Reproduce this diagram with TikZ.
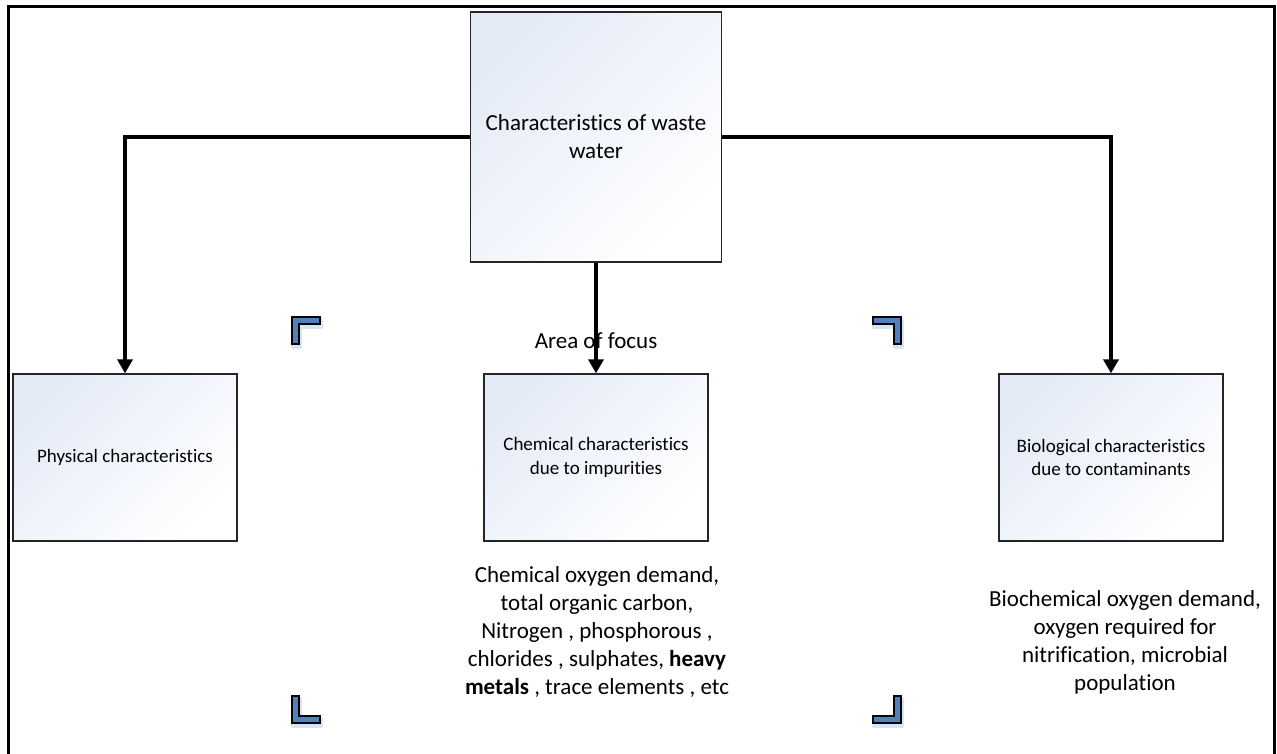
\documentclass[tikz,border=0pt]{standalone}
\usepackage{fontspec}
\setmainfont{Carlito}[Ligatures=NoCommon]
\usetikzlibrary{arrows.meta}
\definecolor{boxtop}{RGB}{228,235,247}
\definecolor{brk}{RGB}{79,129,189}
\definecolor{glow}{RGB}{215,228,244}
\tikzset{
  box/.style={draw=black!85, line width=1.3pt, rectangle, inner sep=0pt,
    left color=boxtop, right color=white, shading angle=45,
    align=center, font=\fontsize{19}{23.3}\selectfont},
  bigtxt/.style={inner sep=0pt, align=center, font=\fontsize{23}{28}\selectfont},
  conn/.style={line width=3.4pt, -{Triangle[width=15pt,length=14pt]}},
  frame/.style={line width=3pt},
  bracket/.style={fill=brk, draw=black, line width=1.6pt, line join=miter},
  bglow/.style={fill=glow, draw=glow, line width=4pt, line join=round}
}
\begin{document}
\begin{tikzpicture}[x=1pt,y=-1pt]
\useasboundingbox (0,0) rectangle (1277,753);
% frame (open at bottom)
\draw[frame] (8,754) -- (8,6) -- (1274.5,6) -- (1274.5,754);

% boxes
\node[box, minimum width=251pt, minimum height=250pt, font=\fontsize{23}{28}\selectfont] (top) at (596,137)
  {Characteristics of waste\\ water};
\node[box, minimum width=224pt, minimum height=167pt] (phys) at (125,457.5) {Physical characteristics};
\node[box, minimum width=224pt, minimum height=167pt] (chem) at (596,457.5) {Chemical characteristics\\ due to impurities};
\node[box, minimum width=224pt, minimum height=167pt] (bio) at (1111,457.5) {Biological characteristics\\ due to contaminants};

% connectors
\draw[conn] (top.west) -| (phys.north);
\draw[conn] (top.east) -| (bio.north);
\draw[conn] (top.south) -- (chem.north);

% area of focus label
\node[bigtxt, anchor=base] (focus) at (596,348) {Area of focus};

% descriptive texts
\node[bigtxt, anchor=north] (chemtxt) at (597,566)
  {Chemical oxygen demand,\\ total organic carbon,\\ Nitrogen , phosphorous ,\\ chlorides , sulphates, \textbf{heavy}\\ \textbf{metals} , trace elements , etc};
\node[bigtxt, anchor=north] (biotxt) at (1125,590)
  {Biochemical oxygen demand,\\ oxygen required for\\ nitrification, microbial\\ population};

% focus brackets (glow)
\begin{scope}[shift={(1,3)}]
\path[bglow] (292,317) -- (320,317) -- (320,324) -- (299,324) -- (299,344) -- (292,344) -- cycle;
\path[bglow] (901,317) -- (873,317) -- (873,324) -- (894,324) -- (894,344) -- (901,344) -- cycle;
\path[bglow] (292,723) -- (292,696) -- (299,696) -- (299,716) -- (320,716) -- (320,723) -- cycle;
\path[bglow] (901,723) -- (901,696) -- (894,696) -- (894,716) -- (873,716) -- (873,723) -- cycle;
\end{scope}
% focus brackets
\draw[bracket] (292,317) -- (320,317) -- (320,324) -- (299,324) -- (299,344) -- (292,344) -- cycle;
\draw[bracket] (901,317) -- (873,317) -- (873,324) -- (894,324) -- (894,344) -- (901,344) -- cycle;
\draw[bracket] (292,723) -- (292,696) -- (299,696) -- (299,716) -- (320,716) -- (320,723) -- cycle;
\draw[bracket] (901,723) -- (901,696) -- (894,696) -- (894,716) -- (873,716) -- (873,723) -- cycle;
\end{tikzpicture}
\end{document}
